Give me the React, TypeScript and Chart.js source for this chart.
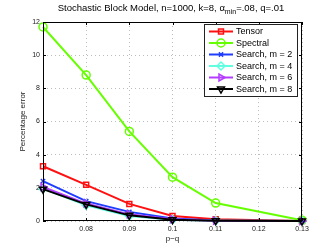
import React, { useEffect, useRef } from "react";
import { Chart, registerables } from "chart.js";
import { drawPoint } from "chart.js/helpers";

Chart.register(...registerables);

const xValues = [0.07, 0.08, 0.09, 0.1, 0.11, 0.13];
const seriesNames = ["Tensor", "Spectral", "Search, m = 2", "Search, m = 4", "Search, m = 6", "Search, m = 8"];
const tensor = [3.3, 2.18, 1.03, 0.3, 0.1, 0.0];
const spectral = [11.7, 8.8, 5.4, 2.64, 1.08, 0.05];
const search2 = [2.4, 1.2, 0.55, 0.15, 0.03, 0.0];
const search4 = [1.95, 0.95, 0.3, 0.08, 0.02, 0.0];
const search6 = [2.05, 1.05, 0.4, 0.1, 0.02, 0.0];
const search8 = [1.92, 1.0, 0.34, 0.08, 0.02, 0.0];
const xTicks = [0.08, 0.09, 0.1, 0.11, 0.12, 0.13];
const yTicks = [0, 2, 4, 6, 8, 10, 12];

const colors = ["#ff1010", "#66ff00", "#1f3dff", "#60ffe0", "#b43cff", "#000000"];
const styles: any[] = [
  { pointStyle: "rect", rotation: 0, radius: 3.5 },
  { pointStyle: "circle", rotation: 0, radius: 4 },
  { pointStyle: "crossRot", rotation: 0, radius: 3 },
  { pointStyle: "rectRot", rotation: 0, radius: 4 },
  { pointStyle: "triangle", rotation: 90, radius: 4 },
  { pointStyle: "triangle", rotation: 180, radius: 4 },
];
const allSeries = [tensor, spectral, search2, search4, search6, search8];
const FONT = "'Liberation Sans', Arial, sans-serif";

const framePlugin = {
  id: "frame",
  afterDatasetsDraw(chart: any) {
    const { ctx, chartArea: a } = chart;
    ctx.save();
    ctx.strokeStyle = "#000";
    ctx.lineWidth = 1;
    ctx.strokeRect(a.left + 0.5, a.top + 0.5, a.right - a.left - 1, a.bottom - a.top - 1);
    const xs = chart.scales.x;
    const ys = chart.scales.y;
    ctx.beginPath();
    xTicks.forEach((v) => {
      const px = Math.round(xs.getPixelForValue(v)) + 0.5;
      ctx.moveTo(px, a.bottom);
      ctx.lineTo(px, a.bottom - 3);
      ctx.moveTo(px, a.top);
      ctx.lineTo(px, a.top + 3);
    });
    yTicks.forEach((v) => {
      const py = Math.round(ys.getPixelForValue(v)) + 0.5;
      ctx.moveTo(a.left, py);
      ctx.lineTo(a.left + 3, py);
      ctx.moveTo(a.right, py);
      ctx.lineTo(a.right - 3, py);
    });
    ctx.stroke();

    // legend
    const lx = 204, ly = 24, lw = 93, lh = 72;
    ctx.fillStyle = "#fff";
    ctx.fillRect(lx, ly, lw, lh);
    ctx.strokeStyle = "#222";
    ctx.strokeRect(lx + 0.5, ly + 0.5, lw, lh);
    ctx.font = `9px ${FONT}`;
    ctx.textBaseline = "middle";
    seriesNames.forEach((name, i) => {
      const cy = 31.5 + i * 11.5;
      ctx.strokeStyle = colors[i];
      ctx.lineWidth = 2;
      ctx.beginPath();
      ctx.moveTo(209, cy);
      ctx.lineTo(233, cy);
      ctx.stroke();
      ctx.fillStyle = "rgba(0,0,0,0)";
      ctx.lineWidth = 1.5;
      drawPoint(ctx, { ...styles[i], borderWidth: 1.5 }, 221, cy);
      ctx.fillStyle = "#000";
      ctx.fillText(name, 236, cy + 0.5);
    });

    // title
    ctx.fillStyle = "#000";
    ctx.textBaseline = "alphabetic";
    const p1 = "Stochastic Block Model, n=1000, k=8, \u03b1";
    const sub = "min";
    const p2 = "=.08, q=.01";
    ctx.font = `9.5px ${FONT}`;
    const w1 = ctx.measureText(p1).width;
    const w3 = ctx.measureText(p2).width;
    ctx.font = `7px ${FONT}`;
    const w2 = ctx.measureText(sub).width;
    const total = w1 + w2 + w3;
    let x = 171 - total / 2;
    const by = 11;
    ctx.font = `9.5px ${FONT}`;
    ctx.fillText(p1, x, by);
    x += w1;
    ctx.font = `7px ${FONT}`;
    ctx.fillText(sub, x, by + 3);
    x += w2;
    ctx.font = `9.5px ${FONT}`;
    ctx.fillText(p2, x, by);
    ctx.restore();
  },
};

export default function App() {
  const ref = useRef<HTMLCanvasElement | null>(null);
  useEffect(() => {
    const datasets = allSeries.map((vals, i) => ({
      label: seriesNames[i],
      data: xValues.map((x, j) => ({ x, y: vals[j] })),
      borderColor: colors[i],
      backgroundColor: "rgba(0,0,0,0)",
      borderWidth: 2,
      pointStyle: styles[i].pointStyle,
      pointRotation: styles[i].rotation,
      pointRadius: styles[i].radius,
      pointBorderWidth: 1.5,
      pointBorderColor: colors[i],
      pointBackgroundColor: "rgba(0,0,0,0)",
      tension: 0,
      order: 6 - i,
      clip: 6,
    }));
    const chart = new Chart(ref.current!, {
      type: "line",
      data: { datasets },
      options: {
        responsive: false,
        animation: false,
        layout: { padding: { left: 0, top: 22, right: 30, bottom: 0 } },
        plugins: { legend: { display: false }, title: { display: false }, tooltip: { enabled: false } },
        scales: {
          x: {
            type: "linear",
            min: 0.07,
            max: 0.13,
            afterFit: (s: any) => { s.height = 28; },
            afterBuildTicks: (s: any) => { s.ticks = [0.07, ...xTicks].map((v) => ({ value: v })); },
            grid: { color: "#bdbdbd", drawTicks: false, tickLength: 0 },
            border: { display: false, dash: [1, 3] },
            ticks: {
              font: { size: 7, family: FONT },
              color: "#222",
              padding: 4,
              maxRotation: 0,
              autoSkip: false,
              callback: (v: any) => (Math.abs(v - 0.07) < 1e-6 ? "" : String(parseFloat(Number(v).toFixed(2)))),
            },
            title: { display: true, text: "p\u2212q", font: { size: 8, family: FONT }, color: "#222", padding: { top: 0, bottom: 5 } },
          },
          y: {
            min: 0,
            max: 12,
            afterFit: (s: any) => { s.width = 43; },
            afterBuildTicks: (s: any) => { s.ticks = yTicks.map((v) => ({ value: v })); },
            grid: { color: "#bdbdbd", drawTicks: false, tickLength: 0 },
            border: { display: false, dash: [1, 3] },
            ticks: { font: { size: 7, family: FONT }, color: "#222", padding: 3 },
            title: { display: true, text: "Percentage error", font: { size: 8, family: FONT }, color: "#222", padding: { top: 18, bottom: 0 } },
          },
        },
      },
      plugins: [framePlugin],
    } as any);
    return () => chart.destroy();
  }, []);
  return (
    <div style={{ position: "fixed", left: 0, top: 0, width: 332, height: 249, background: "#fff" }}>
      <canvas ref={ref} width={332} height={249} />
    </div>
  );
}
